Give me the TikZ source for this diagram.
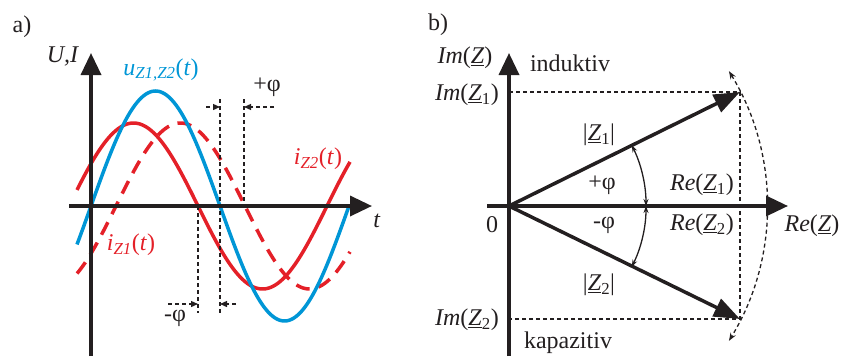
\documentclass[tikz,border=0pt]{standalone}
\usepackage{fontspec}
\setmainfont{Liberation Serif}
\usetikzlibrary{arrows.meta}
\definecolor{ublue}{RGB}{0,150,214}
\definecolor{ired}{RGB}{228,32,40}
\definecolor{ink}{RGB}{35,31,32}
\newcommand{\uZ}{\underline{\textit{Z}}}

\begin{document}
\begin{tikzpicture}[x=1pt, y=-1pt, ink, font=\fontsize{24}{26}\selectfont,
    axis/.style={line width=3.5pt, -{Triangle[length=22pt,width=20pt]}},
    wave/.style={line width=3.5pt},
    helper/.style={line width=1.3pt, dash pattern=on 4pt off 3pt},
    tip/.style={-{Triangle[length=7pt,width=6pt]}},
    vec/.style={line width=3.5pt, -{Triangle[length=26pt,width=19pt]}},
    angarc/.style={line width=1.3pt, {Stealth[length=7pt,width=5pt]}-{Stealth[length=7pt,width=5pt]}}]
    \useasboundingbox (0,0) rectangle (843,356);

    % a) Zeitverlauf
    \node (la) at (22,27) {a)};
    \coordinate (A0) at (91,206);
    \coordinate (Atop) at (91,53);
    \coordinate (Abot) at (91,356);
    \coordinate (Aleft) at (69,206);
    \coordinate (Aright) at (372,206);

    \draw[wave, ired] plot[domain=77:350, samples=150] (\x, {206-83*sin(1.3953*(\x-69))});
    \draw[wave, ired, dash pattern=on 14pt off 9pt] plot[domain=77:350, samples=150] (\x, {206-83*sin(1.3953*(\x-116))});
    \draw[wave, ublue] plot[domain=77:349, samples=150] (\x, {206-115*sin(1.3953*(\x-91))});

    % Hilfslinien fuer die Phasenverschiebung
    \draw[helper] (220,99) -- (220,313);
    \draw[helper] (244,99) -- (244,206);
    \draw[helper] (198,206) -- (198,313);
    \draw[helper, tip] (206,107) -- (220,107);
    \draw[helper, tip] (274,107) -- (244,107);
    \draw[helper, tip] (168,304) -- (198,304);
    \draw[helper, tip] (236,304) -- (220,304);

    \draw[axis] (Abot) -- (Atop);
    \draw[axis] (Aleft) -- (Aright);

    \node (UI) at (63,56) {\textit{U,I}};
    \node (tA) at (377,221) {\textit{t}};
    \node[ublue] (uZ) at (161,70) {\textit{u}\textsubscript{\textit{Z1,Z2}}(\textit{t})};
    \node[ired] (iZ2) at (318,159) {\textit{i}\textsubscript{\textit{Z2}}(\textit{t})};
    \node[ired] (iZ1) at (131,245) {\textit{i}\textsubscript{\textit{Z1}}(\textit{t})};
    \node (pphi) at (267,87) {+φ};
    \node (mphi) at (175,318) {-φ};

    % b) Zeigerdiagramm
    \node (lb) at (438,25) {b)};
    \coordinate (O) at (509,206);
    \coordinate (Otop) at (509,53);
    \coordinate (Obot) at (509,356);
    \coordinate (Oleft) at (487,206);
    \coordinate (Oright) at (788,206);
    \coordinate (Z1) at (740,92);
    \coordinate (Z2) at (740,319);
    \coordinate (I1) at (509,92);
    \coordinate (I2) at (509,319);

    \draw[helper] (I1) -- (Z1) -- (Z2) -- (I2);
    \draw[helper, {Stealth[length=8pt,width=6pt]}-{Stealth[length=8pt,width=6pt]}]
        ([shift={(-31.5:258)}]O) arc (-31.5:31.5:258);
    \draw[angarc] ([shift={(-26.3:137)}]O) arc (-26.3:0:137);
    \draw[angarc] ([shift={(0:137)}]O) arc (0:26.3:137);

    \draw[axis] (Obot) -- (Otop);
    \draw[axis] (Oleft) -- (Oright);
    \draw[vec] (O) -- (Z1);
    \draw[vec] (O) -- (Z2);

    \node (ImZ) at (465,58) {\textit{Im}(\uZ)};
    \node (ind) at (570,63) {induktiv};
    \node (ImZ1) at (467,95) {\textit{Im}(\uZ\textsubscript{1})};
    \node (absZ1) at (599,135) {|\uZ\textsubscript{1}|};
    \node (bpphi) at (602,185) {+φ};
    \node (ReZ1) at (702,185) {\textit{Re}(\uZ\textsubscript{1})};
    \node (null) at (492,225) {0};
    \node (bmphi) at (604,225) {-φ};
    \node (ReZ2) at (702,225) {\textit{Re}(\uZ\textsubscript{2})};
    \node (ReZ) at (812,226) {\textit{Re}(\uZ)};
    \node (absZ2) at (599,285) {|\uZ\textsubscript{2}|};
    \node (ImZ2) at (467,320) {\textit{Im}(\uZ\textsubscript{2})};
    \node (kap) at (568,343) {kapazitiv};
\end{tikzpicture}
\end{document}
